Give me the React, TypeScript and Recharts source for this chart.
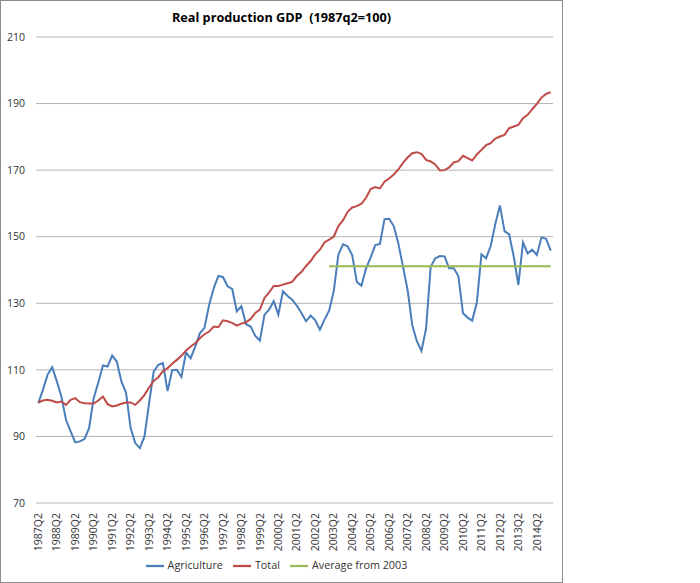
import React from 'react';
import { LineChart, Line, XAxis, YAxis, CartesianGrid, Legend } from 'recharts';

// Quarterly index values, 1987Q2 .. 2015Q1 (1987q2 = 100)
const startYear = 1987;
const startQuarter = 2;
const pointCount = 112;

const agriculture = [
  100, 104, 108.5, 110.8, 106.6, 102, 95, 91.5, 88.2, 88.5,
  89.2, 92.5, 101.5, 106.2, 111.3, 111, 114.3, 112.5, 106.5, 103.2,
  92.5, 88, 86.5, 90, 100, 109.5, 111.5, 112, 103.6, 109.9,
  110, 107.9, 115.2, 113.5, 117, 121, 122.6, 129.5, 134.5, 138.2,
  137.9, 135.1, 134.3, 127.6, 129.1, 123.7, 123, 120.2, 118.8, 126.6,
  128.1, 130.6, 126.6, 133.6, 132.2, 131.1, 129.3, 127.1, 124.6, 126.3,
  124.9, 122.1, 125.1, 127.8, 133.6, 144.6, 147.7, 147.1, 144.5, 136.4,
  135.3, 140.5, 143.8, 147.5, 147.8, 155.3, 155.4, 153.2, 148, 141,
  134, 123.5, 118.6, 115.7, 122.4, 141, 143.5, 144.2, 144.1, 140.5,
  140.5, 138.2, 127, 125.7, 124.8, 130.2, 144.7, 143.5, 147.2, 153.8,
  159.4, 151.7, 150.7, 144, 135.5, 148.3, 145, 146.1, 144.5, 149.8,
  149.4, 145.8,
];

const total = [
  100.2, 100.8, 101, 100.7, 100.2, 100.5, 99.5, 101, 101.5, 100.3,
  100, 99.9, 99.9, 100.8, 102, 99.7, 99, 99.3, 99.8, 100.2,
  100.2, 99.5, 100.8, 102.5, 104.7, 106.7, 107.8, 109.6, 110.5, 111.8,
  113, 114.2, 115.8, 117, 118, 119.5, 120.7, 121.5, 123, 122.8,
  124.9, 124.6, 124.1, 123.3, 123.9, 124.3, 125.3, 127.1, 128.1, 131.6,
  133.3, 135.2, 135.2, 135.6, 136, 136.4, 138.2, 139.4, 141.2, 142.7,
  144.7, 146.1, 148.3, 149.1, 150, 153.2, 154.9, 157.5, 158.8, 159.2,
  159.9, 161.7, 164.3, 164.9, 164.5, 166.5, 167.5, 168.7, 170.2, 172.2,
  173.8, 175.1, 175.4, 174.9, 173.1, 172.6, 171.7, 169.9, 170, 170.8,
  172.3, 172.7, 174.3, 173.6, 172.9, 174.7, 176.1, 177.5, 178.1, 179.5,
  180.1, 180.6, 182.6, 183.1, 183.6, 185.6, 186.6, 188.3, 189.9, 191.8,
  192.9, 193.4,
];

const averageFrom2003 = 141.1;
const averageStartLabel = '2003Q1';

const yTicks = [70, 90, 110, 130, 150, 170, 190, 210];
const seriesOrder = ['Agriculture', 'Total', 'Average from 2003'];

const quarters: string[] = [];
for (let i = 0; i < pointCount; i++) {
  const k = startQuarter - 1 + i;
  quarters.push(`${startYear + Math.floor(k / 4)}Q${(k % 4) + 1}`);
}
const averageStart = quarters.indexOf(averageStartLabel);

const data = quarters.map((q, i) => ({
  quarter: q,
  agriculture: agriculture[i],
  total: total[i],
  average: i >= averageStart ? averageFrom2003 : null,
}));

const FONT = '"Open Sans", "Liberation Sans", sans-serif';
const TEXT = '#333333';

const QuarterTick = (props: any) => {
  const { x, y, payload } = props;
  return (
    <text
      x={x}
      y={y}
      transform={`rotate(-90, ${x}, ${y})`}
      textAnchor="end"
      dy="0.35em"
      fontSize={10.5}
      fontFamily={FONT}
      fill={TEXT}
    >
      {payload.value}
    </text>
  );
};

export default function App() {
  return (
    <div style={{ position: 'absolute', left: 0, top: 0, width: 700, height: 583, background: '#fff' }}>
      <div
        style={{
          position: 'absolute',
          left: 0,
          top: 0,
          width: 561,
          height: 581,
          border: '1px solid #8c8c8c',
        }}
      />
      <div
        style={{
          position: 'absolute',
          left: 0,
          top: 8,
          width: 563,
          textAlign: 'center',
          fontWeight: 'bold',
          fontSize: 12.7,
          fontFamily: FONT,
          color: '#000',
          whiteSpace: 'pre',
        }}
      >
        {'Real production GDP  (1987q2=100)'}
      </div>
      <div style={{ position: 'absolute', left: 0, top: 0 }}>
        <LineChart width={563} height={583} data={data} margin={{ top: 37, right: 10, bottom: 6, left: 0 }}>
          <CartesianGrid vertical={false} stroke="#b3b3b3" />
          <XAxis
            dataKey="quarter"
            interval={3}
            tick={<QuarterTick />}
            tickLine={false}
            axisLine={false}
            height={54}
            tickSize={6}
            tickMargin={4}
            padding={{ left: 2.3, right: 2.3 }}
          />
          <YAxis
            type="number"
            domain={[70, 210]}
            ticks={yTicks}
            width={36}
            tickLine={false}
            axisLine={false}
            tickSize={6}
            tickMargin={5}
            tick={{ fontSize: 10.5, fill: TEXT, fontFamily: FONT }}
          />
          <Legend
            verticalAlign="bottom"
            height={20}
            iconType="plainline"
            iconSize={18}
            itemSorter={(item: any) => seriesOrder.indexOf(item.value)}
            wrapperStyle={{ left: 0, width: 563, fontFamily: FONT, fontSize: 10.8 }}
            formatter={(value: any) => <span style={{ color: TEXT }}>{value}</span>}
          />
          <Line
            type="linear"
            dataKey="agriculture"
            name="Agriculture"
            stroke="#4a7ebb"
            strokeWidth={2}
            dot={false}
            isAnimationActive={false}
          />
          <Line
            type="linear"
            dataKey="total"
            name="Total"
            stroke="#be4b48"
            strokeWidth={2}
            dot={false}
            isAnimationActive={false}
          />
          <Line
            type="linear"
            dataKey="average"
            name="Average from 2003"
            stroke="#98b954"
            strokeWidth={2}
            dot={false}
            isAnimationActive={false}
          />
        </LineChart>
      </div>
    </div>
  );
}
